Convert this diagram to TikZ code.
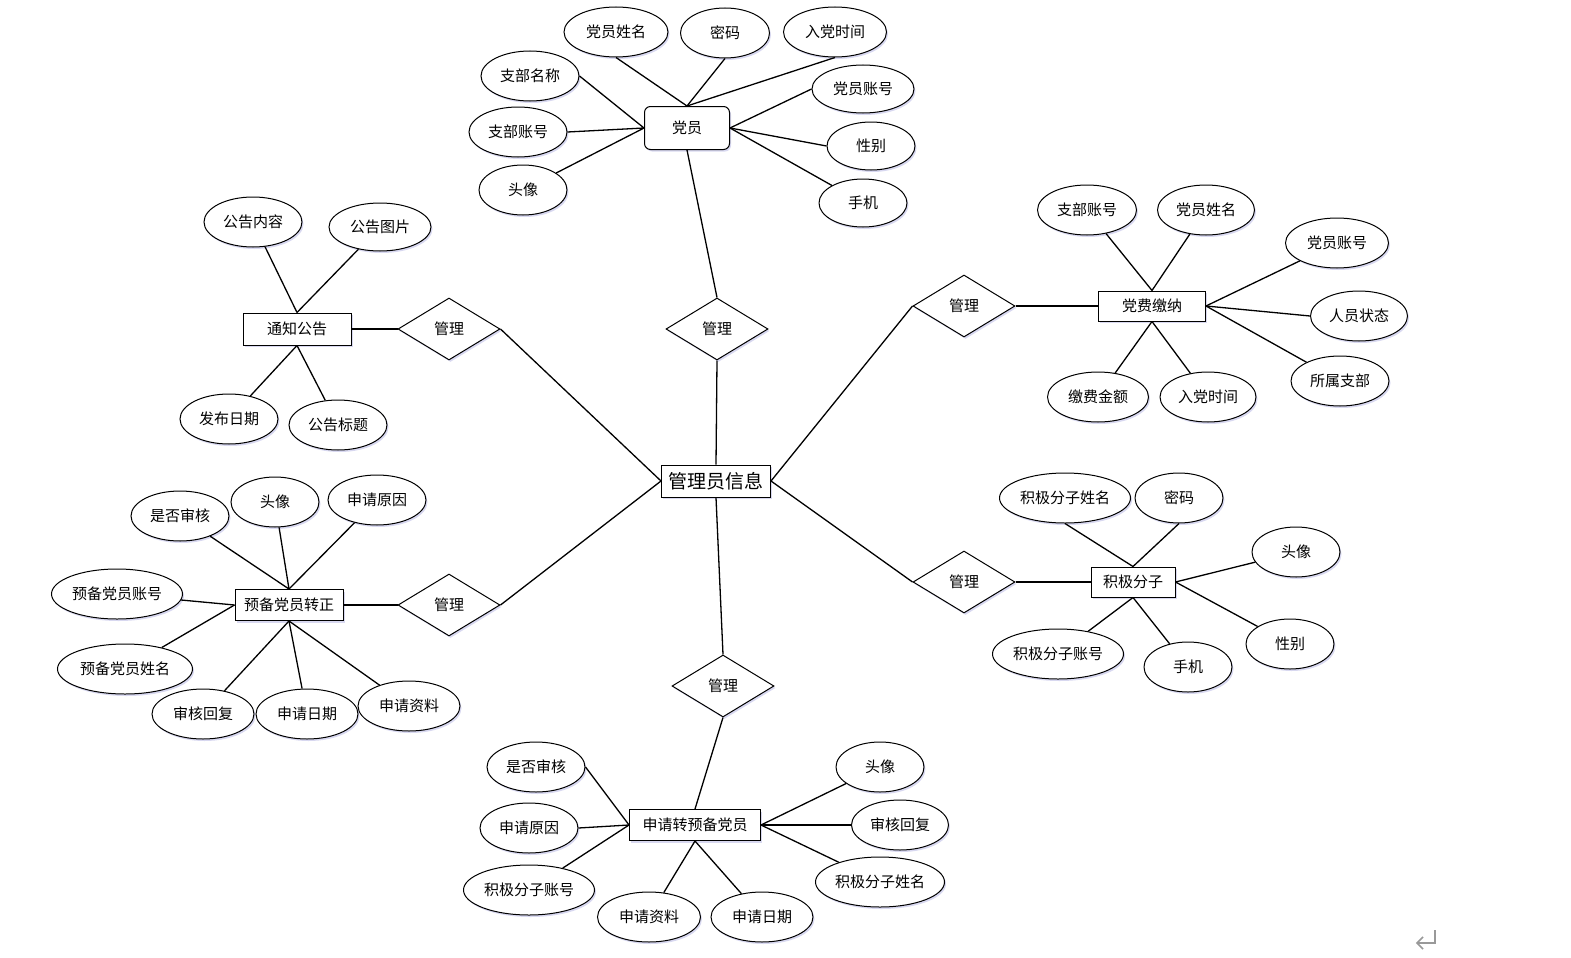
\documentclass[tikz,border=0pt]{standalone}
\usepackage{fontspec}
\newfontfamily\cjk{Noto Sans CJK SC}
\usetikzlibrary{shapes.geometric,shadows}
\tikzset{
  shd/.style={drop shadow={shadow xshift=1.5pt,shadow yshift=-2pt,fill=blue!45!gray!35,opacity=0.6}},
  attr/.style={ellipse,draw,fill=white,shd,minimum height=50pt,inner sep=0pt,line width=1pt,font=\cjk\fontsize{15}{17}\selectfont},
  ent/.style={rectangle,draw,fill=white,shd,inner sep=0pt,line width=1pt,font=\cjk\fontsize{15}{17}\selectfont},
  rel/.style={diamond,draw,fill=white,shd,inner sep=0pt,minimum width=102pt,minimum height=62pt,line width=1pt,font=\cjk\fontsize{15}{17}\selectfont},
  conn/.style={line width=1.3pt,black},
}
\begin{document}
\begin{tikzpicture}[x=1pt,y=-1pt]
\useasboundingbox (0,0) rectangle (1571,958);
% ---------- entities ----------
\node[ent,rounded corners=6pt,minimum width=85pt,minimum height=43pt] (dy) at (687,128) {党员};
\node[ent,minimum width=108pt,minimum height=32pt] (tz) at (297,329) {通知公告};
\node[ent,minimum width=108pt,minimum height=31pt] (yb) at (289,605) {预备党员转正};
\node[ent,minimum width=131pt,minimum height=31pt] (sq) at (695,825) {申请转预备党员};
\node[ent,minimum width=107pt,minimum height=30pt] (df) at (1152,306) {党费缴纳};
\node[ent,minimum width=84pt,minimum height=30pt] (jj) at (1133,582) {积极分子};
\node[ent,minimum width=109pt,minimum height=32pt,font=\cjk\fontsize{19}{21}\selectfont] (gl) at (716,481) {管理员信息};
% ---------- relations ----------
\node[rel] (r1) at (717,329) {管理};
\node[rel] (r2) at (449,329) {管理};
\node[rel] (r3) at (449,605) {管理};
\node[rel] (r4) at (723,686) {管理};
\node[rel] (r5) at (964,306) {管理};
\node[rel] (r6) at (964,582) {管理};
% ---------- attributes: 党员 ----------
\node[attr,minimum width=104pt] (a1) at (616,32) {党员姓名};
\node[attr,minimum width=89pt] (a2) at (725,33) {密码};
\node[attr,minimum width=103pt] (a3) at (835,32) {入党时间};
\node[attr,minimum width=98pt] (a4) at (530,76) {支部名称};
\node[attr,minimum width=98pt] (a5) at (518,132) {支部账号};
\node[attr,minimum width=88pt] (a6) at (523,190) {头像};
\node[attr,minimum width=102pt,minimum height=48pt] (a7) at (863,89) {党员账号};
\node[attr,minimum width=88pt,minimum height=48pt] (a8) at (871,146) {性别};
\node[attr,minimum width=88pt,minimum height=48pt] (a9) at (863,203) {手机};
% ---------- attributes: 通知公告 ----------
\node[attr,minimum width=98pt] (b1) at (253,222) {公告内容};
\node[attr,minimum width=102pt,minimum height=48pt] (b2) at (380,227) {公告图片};
\node[attr,minimum width=98pt] (b3) at (229,419) {发布日期};
\node[attr,minimum width=98pt] (b4) at (338,425) {公告标题};
% ---------- attributes: 预备党员转正 ----------
\node[attr,minimum width=98pt] (c1) at (180,516) {是否审核};
\node[attr,minimum width=88pt] (c2) at (275,502) {头像};
\node[attr,minimum width=98pt] (c3) at (377,500) {申请原因};
\node[attr,minimum width=131pt] (c4) at (117,594) {预备党员账号};
\node[attr,minimum width=135pt] (c5) at (125,669) {预备党员姓名};
\node[attr,minimum width=102pt] (c6) at (203,714) {审核回复};
\node[attr,minimum width=102pt] (c7) at (307,714) {申请日期};
\node[attr,minimum width=102pt] (c8) at (409,706) {申请资料};
% ---------- attributes: 申请转预备党员 ----------
\node[attr,minimum width=98pt] (d1) at (536,767) {是否审核};
\node[attr,minimum width=98pt] (d2) at (529,828) {申请原因};
\node[attr,minimum width=131pt] (d3) at (529,890) {积极分子账号};
\node[attr,minimum width=103pt] (d4) at (649,917) {申请资料};
\node[attr,minimum width=102pt] (d5) at (762,917) {申请日期};
\node[attr,minimum width=88pt] (d6) at (880,767) {头像};
\node[attr,minimum width=97pt] (d7) at (900,825) {审核回复};
\node[attr,minimum width=129pt] (d8) at (880,882) {积极分子姓名};
% ---------- attributes: 党费缴纳 ----------
\node[attr,minimum width=99pt] (e1) at (1087,210) {支部账号};
\node[attr,minimum width=97pt] (e2) at (1206,210) {党员姓名};
\node[attr,minimum width=103pt] (e3) at (1337,243) {党员账号};
\node[attr,minimum width=97pt] (e4) at (1359,316) {人员状态};
\node[attr,minimum width=98pt] (e5) at (1340,381) {所属支部};
\node[attr,minimum width=101pt] (e6) at (1098,397) {缴费金额};
\node[attr,minimum width=96pt] (e7) at (1208,397) {入党时间};
% ---------- attributes: 积极分子 ----------
\node[attr,minimum width=131pt] (f1) at (1065,498) {积极分子姓名};
\node[attr,minimum width=88pt] (f2) at (1179,498) {密码};
\node[attr,minimum width=88pt] (f3) at (1296,552) {头像};
\node[attr,minimum width=88pt] (f4) at (1290,644) {性别};
\node[attr,minimum width=131pt] (f5) at (1058,654) {积极分子账号};
\node[attr,minimum width=88pt] (f6) at (1188,667) {手机};
% ---------- connectors ----------
\begin{scope}[conn]
\foreach \a in {a1,a2,a3} \draw (\a.south) -- (dy.north);
\foreach \a in {a4,a5} \draw (\a.east) -- (dy.west);
\draw (a6) -- (dy.west);
\foreach \a in {a7,a8} \draw (\a.west) -- (dy.east);
\draw (a9) -- (dy.east);
\draw (dy.south) -- (r1.north);
\draw (r1.south) -- (gl.north);
\foreach \a in {b1,b2} \draw (\a) -- (tz.north);
\foreach \a in {b3,b4} \draw (\a) -- (tz.south);
\draw (tz.east) -- (r2.west);
\draw (r2.east) -- (gl.west);
\foreach \a in {c1,c2,c3} \draw (\a) -- (yb.north);
\foreach \a in {c4,c5} \draw (\a) -- (yb.west);
\foreach \a in {c6,c7,c8} \draw (\a) -- (yb.south);
\draw (yb.east) -- (r3.west);
\draw (r3.east) -- (gl.west);
\draw (gl.south) -- (r4.north);
\draw (r4.south) -- (sq.north);
\draw (d1.east) -- (sq.west);
\draw (d2.east) -- (sq.west);
\draw (d3) -- (sq.west);
\foreach \a in {d4,d5} \draw (\a) -- (sq.south);
\draw (d6) -- (sq.east);
\draw (d7.west) -- (sq.east);
\draw (d8) -- (sq.east);
\foreach \a in {e1,e2} \draw (\a) -- (df.north);
\draw (e3) -- (df.east);
\draw (e4.west) -- (df.east);
\draw (e5) -- (df.east);
\foreach \a in {e6,e7} \draw (\a) -- (df.south);
\draw (gl.east) -- (r5.west);
\draw (r5.east) -- (df.west);
\foreach \a in {f1,f2} \draw (\a.south) -- (jj.north);
\foreach \a in {f3,f4} \draw (\a) -- (jj.east);
\foreach \a in {f5,f6} \draw (\a) -- (jj.south);
\draw (gl.east) -- (r6.west);
\draw (r6.east) -- (jj.west);
\end{scope}
% ---------- paragraph mark ----------
\coordinate (pm1) at (1435,930);
\coordinate (pm2) at (1435,943);
\coordinate (pm3) at (1417,943);
\draw[gray!80,line width=1.6pt] (pm1) -- (pm2) -- (pm3);
\draw[gray!80,line width=1.6pt] ([shift={(6,-6)}]pm3) -- (pm3) -- ([shift={(6,6)}]pm3);
\end{tikzpicture}
\end{document}
